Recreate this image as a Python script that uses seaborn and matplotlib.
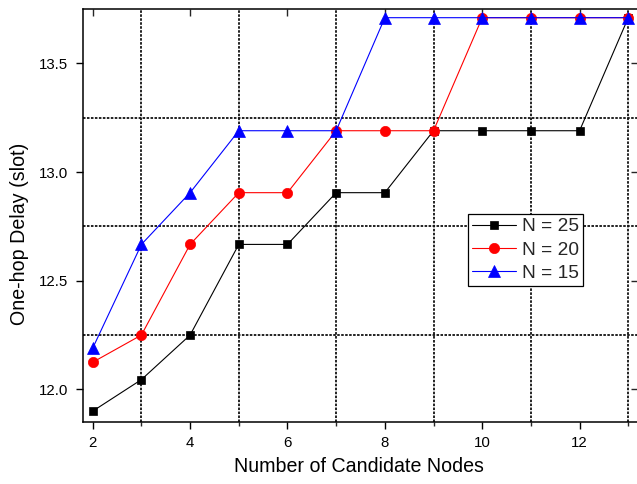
import matplotlib
matplotlib.use("Agg")
import matplotlib.pyplot as plt
from matplotlib.ticker import MultipleLocator, FixedLocator
import numpy as np
import pandas as pd
import seaborn as sns

# Number of candidate nodes
nodes = [2, 3, 4, 5, 6, 7, 8, 9, 10, 11, 12, 13]

# One-hop delay (slot) for each network size
delay_n25 = [11.90, 12.045, 12.25, 12.667, 12.667, 12.905, 12.905, 13.19, 13.19, 13.19, 13.19, 13.71]
delay_n20 = [12.125, 12.25, 12.667, 12.905, 12.905, 13.19, 13.19, 13.19, 13.71, 13.71, 13.71, 13.71]
delay_n15 = [12.19, 12.667, 12.905, 13.19, 13.19, 13.19, 13.71, 13.71, 13.71, 13.71, 13.71, 13.71]

series_labels = ["N = 25", "N = 20", "N = 15"]

sns.set_theme(style="white")
plt.rcParams["font.family"] = ["Liberation Sans", "DejaVu Sans"]

fig = plt.figure(figsize=(6.37, 4.84), dpi=100)
ax = fig.add_axes([83 / 637, 62 / 484, 555 / 637, 413 / 484])

df = pd.DataFrame({
    "nodes": nodes * 3,
    "delay": delay_n25 + delay_n20 + delay_n15,
    "series": np.repeat(series_labels, len(nodes)),
})

styles = {
    "N = 25": dict(color="#000000", marker="s", markersize=6.3),
    "N = 20": dict(color="#FF0000", marker="o", markersize=7.4),
    "N = 15": dict(color="#0000FF", marker="^", markersize=8.2),
}

for name in series_labels:
    sub = df[df["series"] == name]
    st = styles[name]
    sns.lineplot(data=sub, x="nodes", y="delay", ax=ax, label=name,
                 color=st["color"], marker=st["marker"], markersize=st["markersize"],
                 markeredgecolor=st["color"], markerfacecolor=st["color"],
                 markeredgewidth=0.5, linewidth=0.8, zorder=3)

ax.set_xlim(1.8, 13.2)
ax.set_ylim(11.85, 13.75)

ax.xaxis.set_major_locator(MultipleLocator(2))
ax.xaxis.set_minor_locator(FixedLocator([3, 5, 7, 9, 11, 13]))
ax.yaxis.set_major_locator(FixedLocator([12.0, 12.5, 13.0, 13.5]))
ax.yaxis.set_minor_locator(FixedLocator([12.25, 12.75, 13.25]))
ax.yaxis.set_major_formatter(plt.FormatStrFormatter("%.1f"))

ax.grid(False)
ax.grid(which="minor", axis="both", color="#111111", linestyle=(0, (1.4, 0.8)),
        linewidth=1.3, zorder=1)
ax.set_axisbelow(True)

ax.tick_params(axis="x", which="major", direction="out", length=5, width=1.0,
               pad=5, labelsize=10.8, colors="black", bottom=True, top=False)
ax.tick_params(axis="x", which="minor", direction="out", length=3, width=1.0,
               bottom=True, top=False)
ax.tick_params(axis="y", which="major", direction="out", length=5, width=1.0,
               pad=5.5, labelsize=10.8, colors="black", left=True, right=False)
ax.tick_params(axis="y", which="minor", length=0, left=False, right=False)

# inward ticks on the top and right frame
top = ax.secondary_xaxis("top")
top.xaxis.set_major_locator(MultipleLocator(2))
top.tick_params(direction="in", length=5, width=1.0, labeltop=False)
top.spines["top"].set_visible(False)
right = ax.secondary_yaxis("right")
right.yaxis.set_major_locator(FixedLocator([12.0, 12.5, 13.0, 13.5]))
right.tick_params(direction="in", length=5, width=1.0, labelright=False)
right.spines["right"].set_visible(False)

for s in ax.spines.values():
    s.set_visible(True)
    s.set_color("black")
    s.set_linewidth(1.1)

ax.set_xlabel("Number of Candidate Nodes", fontsize=14.1, color="black")
ax.set_ylabel("One-hop Delay (slot)", fontsize=14.1, color="black")
ax.xaxis.set_label_coords(0.497, -0.085)
ax.yaxis.set_label_coords(-0.097, 0.455)

leg = ax.legend(loc="upper left", bbox_to_anchor=(0.694, 0.504), borderaxespad=0,
                fontsize=13.8, frameon=True, fancybox=False, framealpha=1,
                edgecolor="black", handlelength=2.3, handletextpad=0.3,
                labelspacing=0.3, borderpad=0.22)
leg.get_frame().set_linewidth(0.9)
leg.set_zorder(5)

fig.savefig("out.png", dpi=100)
